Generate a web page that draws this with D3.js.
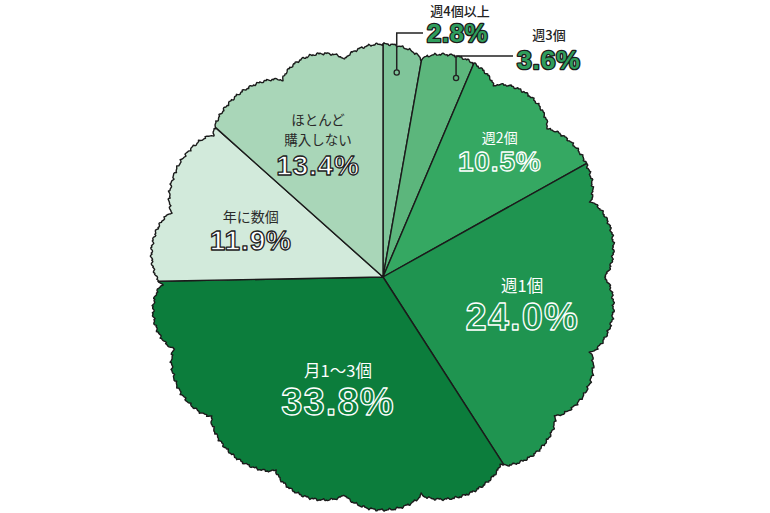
<!DOCTYPE html>
<html><head><meta charset="utf-8">
<script src="https://cdn.jsdelivr.net/npm/d3@7"></script>
<style>body{margin:0;background:#fff;overflow:hidden}</style>
</head><body><svg id="c" width="770" height="513"></svg>
<script>
// ---- data ----
const categories = ["週4個以上","週3個","週2個","週1個","月1～3個","年に数個","ほとんど購入しない"];
const categoryLines = [["週4個以上"],["週3個"],["週2個"],["週1個"],["月1～3個"],["年に数個"],["ほとんど","購入しない"]];
const values = [2.8,3.6,10.5,24.0,33.8,11.9,13.4];
const valueLabels = values.map(v => v.toFixed(1) + "%");
const colors = ["#80c59a","#5cb67c","#35a862","#1f9450","#0c7d3c","#d2eadb","#a9d6b8"];

// ---- layout ----
const W = 770, H = 513, cx = 383, cy = 277;
const baseR = 220, bumpA = 13;
const dips = [10,30,48,70,90,110,129,148,170,190,209,231,251,268,287,310,333,350];
// inside label placement (number baseline in polar coords): radius, angle nudge (deg), sizes, gap
const inLabel = {
  2:{r:158,da:5.7,  cs:14, ns:28, gap:28, dark:true},
  3:{r:149,da:6.9,  cs:16.5, ns:38, gap:38, dark:true},
  4:{r:145,da:-10,  cs:16.5, ns:38, gap:38, dark:true},
  5:{r:135,da:-8.7, cs:14, ns:28, gap:28, dark:false},
  6:{r:121,da:-8.4, cs:13.5, ns:28, gap:30, dark:false}
};
// outside labels: dot radius, angle nudge, elbow y, text x
const outLabel = {
  0:{r:205,da:-1.2, ey:33, tx:427, catY:15.5, numY:42,   catX:460, ns:25.5},
  1:{r:212,da:3.6,  ey:56, tx:517, catY:40,   numY:68.5, catX:549, ns:26.5}
};

const svg = d3.select("#c");
const pie = d3.pie().sort(null).value(d => d)(values);

function radiusAt(a){ // a in radians, clockwise from top
  let deg = ((a*180/Math.PI)%360+360)%360;
  let i = dips.length-1, lo, hi;
  for (let k=0;k<dips.length;k++){ if (dips[k] <= deg) i = k; }
  if (deg < dips[0]) { lo = dips[dips.length-1]-360; hi = dips[0]; }
  else { lo = dips[i]; hi = (i+1<dips.length)? dips[i+1] : dips[0]+360; }
  const t = (deg-lo)/(hi-lo);
  const bump = Math.pow(Math.sin(Math.PI*t), 0.6);
  const jag = 0.8*Math.sin(a*173) + 0.5*Math.sin(a*389) + 0.3*Math.sin(a*611);
  return baseR + bumpA*bump + jag;
}
const pt = (a, r) => [cx + r*Math.sin(a), cy - r*Math.cos(a)];

const line = d3.line();
const g = svg.append("g");
pie.forEach((p,i) => {
  const pts = [[cx,cy]];
  const n = Math.max(4, Math.ceil((p.endAngle-p.startAngle)*180/Math.PI*4));
  for (let k=0;k<=n;k++){
    const a = p.startAngle + (p.endAngle-p.startAngle)*k/n;
    pts.push(pt(a, radiusAt(a)));
  }
  g.append("path").attr("d", line(pts)+"Z")
    .attr("fill", colors[i]).attr("stroke","#1b1b1b").attr("stroke-width",1.4)
    .attr("stroke-linejoin","round");
});

const fontCJK = "'Noto Sans CJK JP',sans-serif";
const fontNum = "'Liberation Sans',Arial,sans-serif";

// inside labels: one text element per slice, lines as tspans
pie.forEach((p,i) => {
  const L = inLabel[i]; if (!L) return;
  const mid = (p.startAngle+p.endAngle)/2 + L.da*Math.PI/180;
  const [x,y] = pt(mid, L.r);
  const lines = categoryLines[i];
  const lh = 19.6;
  const t = svg.append("text").attr("text-anchor","middle");
  lines.forEach((s,j) => {
    t.append("tspan").attr("x",x).attr("y", y - L.gap - (lines.length-1-j)*lh)
      .attr("font-family",fontCJK).attr("font-size",L.cs).attr("font-weight",400)
      .attr("fill", L.dark ? "#ffffff" : "#2a2a2a").text(s);
  });
  t.append("tspan").attr("x",x).attr("y", y)
    .attr("font-family",fontNum).attr("font-size",L.ns).attr("font-weight",700)
    .attr("letter-spacing", L.ns*0.03)
    .attr("fill", L.dark ? colors[i] : "#ffffff")
    .attr("stroke", L.dark ? "#ffffff" : "#222222").attr("stroke-width",1.3)
    .attr("stroke-linejoin","round").text(valueLabels[i]);
});

// outside labels with leaders
pie.forEach((p,i) => {
  const L = outLabel[i]; if (!L) return;
  const mid = (p.startAngle+p.endAngle)/2 + L.da*Math.PI/180;
  const [x,y] = pt(mid, L.r);
  svg.append("path").attr("d", line([[x,y],[x,L.ey],[L.tx-4,L.ey]]))
    .attr("fill","none").attr("stroke","#222").attr("stroke-width",1.5);
  svg.append("circle").attr("cx",x).attr("cy",y).attr("r",2.6)
    .attr("fill",colors[i]).attr("stroke","#222").attr("stroke-width",1.3);
  const t = svg.append("text");
  t.append("tspan").attr("x",L.catX).attr("y",L.catY).attr("text-anchor","middle")
    .attr("font-family",fontCJK).attr("font-size",13).attr("font-weight",500)
    .attr("fill","#222").text(categories[i]);
  t.append("tspan").attr("x",L.tx).attr("y",L.numY).attr("text-anchor","start")
    .attr("font-family",fontNum).attr("font-size",L.ns).attr("font-weight",700)
    .attr("letter-spacing",0.8)
    .attr("fill","#2f9d5c").attr("stroke","#1c1c1c").attr("stroke-width",2.6)
    .attr("stroke-linejoin","round").attr("paint-order","stroke").text(valueLabels[i]);
});
</script></body></html>
